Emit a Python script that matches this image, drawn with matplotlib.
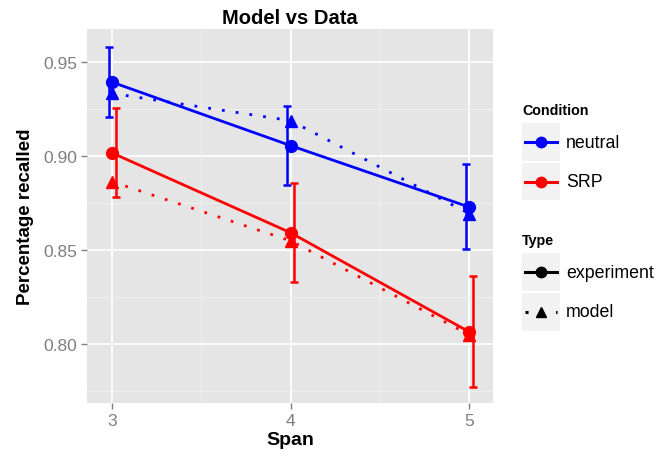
import matplotlib.pyplot as plt
import matplotlib.lines as mlines
import matplotlib.patches as mpatches
import numpy as np

plt.rcParams['font.family'] = ['Liberation Sans', 'DejaVu Sans']

span = [3, 4, 5]
conditions = ['neutral', 'SRP']
colors = {'neutral': '#0000FF', 'SRP': '#FF0000'}

exp_vals = {'neutral': [0.9395, 0.9057, 0.8730],
            'SRP': [0.9018, 0.8593, 0.8065]}
exp_low = {'neutral': [0.9210, 0.8848, 0.8505],
           'SRP': [0.8783, 0.8329, 0.7772]}
exp_high = {'neutral': [0.9580, 0.9270, 0.8960],
            'SRP': [0.9256, 0.8859, 0.8360]}
model_vals = {'neutral': [0.9335, 0.9190, 0.8695],
              'SRP': [0.8865, 0.8550, 0.8050]}
dodge = {'neutral': -0.02, 'SRP': 0.02}

fig = plt.figure(figsize=(6.7, 4.6), dpi=100)
ax = fig.add_axes([0.13, 0.1217, 0.606, 0.813])
ax.set_facecolor('#E5E5E5')
for s in ax.spines.values():
    s.set_visible(False)

ax.set_xlim(2.86, 5.134)
ax.set_ylim(0.7686, 0.9678)
ax.set_xticks(span)
ax.set_yticks([0.80, 0.85, 0.90, 0.95])
ax.set_yticklabels(['0.80', '0.85', '0.90', '0.95'])
ax.set_xticks([3.5, 4.5], minor=True)
ax.set_yticks([0.775, 0.825, 0.875, 0.925], minor=True)
ax.grid(which='major', color='white', linewidth=1.2)
ax.grid(which='minor', color='#F2F2F2', linewidth=0.6)
ax.set_axisbelow(True)
ax.tick_params(which='major', colors='#7F7F7F', labelcolor='#7F7F7F',
               labelsize=12.5, length=4, width=1, pad=3)
ax.tick_params(which='minor', length=0)

for c in conditions:
    col = colors[c]
    x = np.array(span, dtype=float)
    y = np.array(exp_vals[c])
    lo = y - np.array(exp_low[c])
    hi = np.array(exp_high[c]) - y
    ax.errorbar(x + dodge[c], y, yerr=[lo, hi], fmt='none', ecolor=col,
                elinewidth=1.8, capsize=3, capthick=1.8, zorder=3)
    ax.plot(x, y, color=col, lw=2, marker='o', markersize=8.5, zorder=4)
    ax.plot(x, model_vals[c], color=col, lw=2, linestyle=(0, (1, 4)),
            dash_capstyle='butt', marker='^', markersize=8.5, zorder=4)

ax.set_title('Model vs Data', fontsize=14.5, fontweight='bold', pad=4)
ax.set_xlabel('Span', fontsize=14, fontweight='bold', labelpad=2)
ax.set_ylabel('Percentage recalled', fontsize=13.5, fontweight='bold', labelpad=7)

# legends drawn by hand (ggplot style key boxes)
W, H = 670.0, 460.0


def fx(px):
    return px / W


def fy(py):
    return 1 - py / H


def key_box(top, bottom):
    fig.add_artist(mpatches.Rectangle((fx(522), fy(bottom)), fx(560) - fx(522),
                                      fy(top) - fy(bottom), transform=fig.transFigure,
                                      facecolor='#F2F2F2', edgecolor='none'))


fig.text(fx(522), fy(111), 'Condition', fontsize=10.3, fontweight='bold', va='center')
fig.text(fx(522), fy(241), 'Type', fontsize=10.3, fontweight='bold', va='center')

entries = [
    (124, 162, colors['neutral'], '-', 'o', 'neutral'),
    (164, 201, colors['SRP'], '-', 'o', 'SRP'),
    (254, 292, 'black', '-', 'o', 'experiment'),
    (294, 332, 'black', (0, (1, 4)), '^', 'model'),
]
for top, bottom, col, ls, mk, label in entries:
    key_box(top, bottom)
    yc = fy((top + bottom) / 2)
    fig.add_artist(mlines.Line2D([fx(525), fx(557)], [yc, yc], transform=fig.transFigure,
                                 color=col, lw=2.2, linestyle=ls, dash_capstyle='butt'))
    fig.add_artist(mlines.Line2D([fx(541)], [yc], transform=fig.transFigure,
                                 color=col, marker=mk, markersize=7.5, linestyle='none'))
    fig.text(fx(566), yc, label, fontsize=12.8, va='center')

fig.savefig('out.png', dpi=100)
